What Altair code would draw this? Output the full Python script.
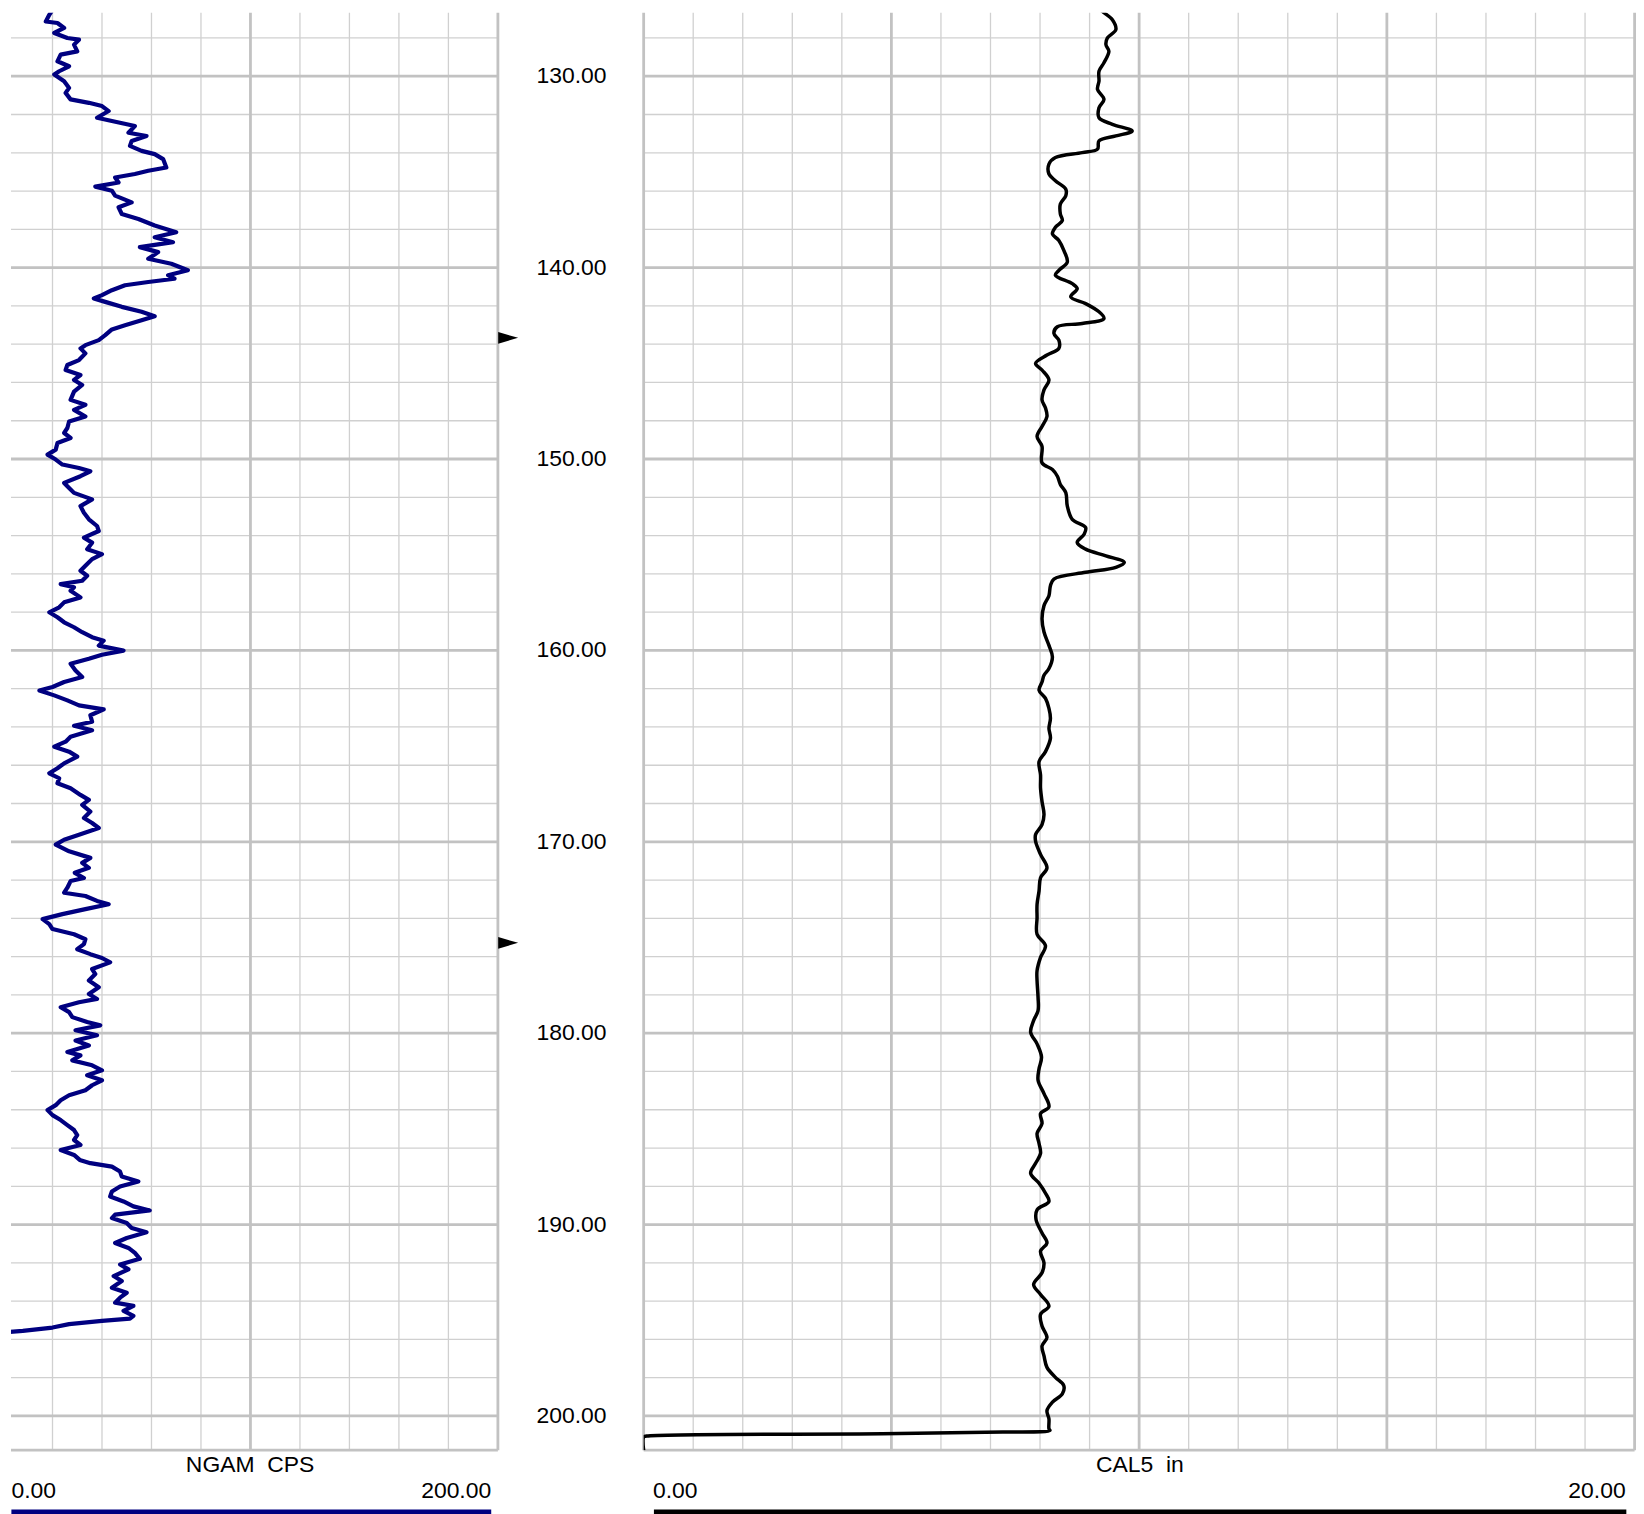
import altair as alt
import pandas as pd

# ---------------- data ----------------
ngam_depth = [126.27, 126.53, 126.79, 127.14, 127.22, 127.48, 127.74, 128.00, 128.09, 128.35,
              128.70, 128.87, 129.22, 129.48, 129.74, 129.91, 130.26, 130.61, 130.87, 131.21,
              131.39, 131.56, 131.82, 132.17, 132.34, 132.60, 132.95, 133.12, 133.38, 133.64,
              133.90, 134.07, 134.33, 134.77, 134.94, 135.11, 135.29, 135.55, 135.77, 135.98,
              136.24, 136.59, 136.85, 137.20, 137.46, 137.80, 138.15, 138.41, 138.67, 138.93,
              139.19, 139.54, 139.80, 140.14, 140.40, 140.58, 140.75, 140.92, 141.18, 141.44,
              141.61, 141.79, 142.05, 142.31, 142.54, 142.75, 143.01, 143.23, 143.53, 143.79,
              144.05, 144.22, 144.48, 144.83, 145.09, 145.35, 145.61, 145.87, 146.13, 146.48,
              146.91, 147.17, 147.43, 147.78, 148.04, 148.38, 148.64, 148.90, 149.16, 149.51,
              149.77, 150.03, 150.29, 150.47, 150.64, 150.90, 151.25, 151.51, 151.77, 152.11,
              152.46, 152.81, 153.15, 153.50, 153.76, 154.11, 154.37, 154.71, 154.97, 155.23,
              155.58, 155.84, 156.10, 156.36, 156.54, 156.70, 156.88, 157.23, 157.49, 157.75,
              158.01, 158.27, 158.53, 158.79, 159.05, 159.31, 159.49, 159.75, 160.01, 160.23,
              160.44, 160.70, 161.05, 161.39, 161.65, 161.91, 162.09, 162.35, 162.61, 162.87,
              163.08, 163.39, 163.73, 163.94, 164.17, 164.51, 164.77, 165.03, 165.29, 165.55,
              165.90, 166.16, 166.42, 166.68, 166.94, 167.20, 167.55, 167.81, 168.07, 168.42,
              168.76, 169.02, 169.28, 169.63, 169.89, 170.15, 170.50, 170.84, 171.10, 171.36,
              171.62, 171.89, 172.05, 172.40, 172.66, 172.83, 173.09, 173.26, 173.52, 173.78,
              174.04, 174.30, 174.56, 174.83, 175.09, 175.35, 175.61, 175.87, 176.07, 176.30,
              176.65, 176.91, 177.25, 177.60, 177.95, 178.21, 178.38, 178.64, 178.90, 179.16,
              179.42, 179.59, 179.85, 180.11, 180.38, 180.64, 180.98, 181.16, 181.42, 181.68,
              181.94, 182.20, 182.46, 182.72, 182.98, 183.24, 183.50, 183.76, 184.02, 184.28,
              184.54, 184.80, 185.06, 185.32, 185.58, 185.84, 186.10, 186.36, 186.62, 186.79,
              186.97, 187.23, 187.49, 187.75, 188.01, 188.27, 188.53, 188.79, 189.05, 189.26,
              189.48, 189.66, 189.92, 190.18, 190.40, 190.70, 190.96, 191.22, 191.48, 191.79,
              192.08, 192.34, 192.69, 192.95, 193.30, 193.56, 193.82, 194.08, 194.25, 194.51,
              194.77, 194.91, 195.03, 195.20, 195.38, 195.55, 195.64, 201.80]
ngam_cps = [19.3, 20.0, 18.7, 17.3, 22.0, 24.7, 20.7, 26.0, 30.7, 28.7,
            30.0, 23.3, 22.0, 26.7, 22.7, 20.7, 24.7, 26.7, 25.3, 27.3,
            34.7, 40.0, 42.7, 38.0, 44.0, 53.3, 50.7, 58.0, 52.0, 51.3,
            56.0, 61.3, 64.7, 66.0, 58.7, 53.3, 45.3, 46.7, 37.3, 44.0,
            45.3, 52.0, 46.7, 48.0, 54.7, 61.3, 70.0, 61.3, 68.7, 55.3,
            62.7, 58.7, 68.0, 74.7, 66.7, 69.3, 58.7, 49.3, 44.0, 40.0,
            36.7, 41.3, 48.0, 56.0, 61.3, 56.0, 49.3, 44.0, 41.3, 38.7,
            33.3, 31.3, 33.3, 30.7, 26.0, 25.3, 31.3, 28.7, 32.0, 28.7,
            27.3, 33.3, 28.7, 33.3, 26.7, 26.0, 24.7, 27.3, 22.0, 21.3,
            18.0, 21.3, 24.0, 30.7, 35.3, 31.3, 24.7, 26.7, 28.7, 36.0,
            31.3, 32.7, 34.7, 38.0, 38.7, 32.7, 36.0, 34.0, 40.0, 36.0,
            33.3, 31.3, 34.0, 32.0, 23.3, 28.7, 27.3, 31.3, 24.7, 22.7,
            18.7, 22.0, 24.7, 28.7, 32.0, 36.0, 40.7, 38.7, 48.7, 40.0,
            34.7, 27.3, 29.3, 32.0, 24.7, 20.0, 14.7, 20.7, 26.0, 30.7,
            40.7, 35.3, 36.0, 28.7, 36.0, 27.3, 25.3, 20.7, 26.7, 30.0,
            24.7, 22.0, 18.7, 22.7, 22.0, 27.3, 31.3, 34.7, 32.0, 35.3,
            32.7, 36.0, 38.7, 30.7, 24.7, 21.3, 26.7, 35.3, 32.0, 34.7,
            29.0, 32.7, 27.3, 26.0, 24.7, 33.3, 38.0, 42.7, 33.3, 24.0,
            16.0, 18.7, 20.0, 28.7, 33.3, 32.7, 30.0, 35.3, 40.0, 43.3,
            36.0, 37.3, 34.7, 38.7, 34.7, 38.0, 30.7, 23.3, 26.7, 28.0,
            34.0, 39.3, 29.3, 38.0, 29.3, 34.7, 26.0, 31.3, 28.0, 36.0,
            40.0, 34.0, 40.0, 36.0, 33.3, 26.7, 23.3, 21.3, 18.0, 20.0,
            23.3, 26.0, 28.7, 30.0, 28.7, 31.3, 23.3, 28.7, 31.0, 35.3,
            44.0, 47.3, 48.0, 54.7, 47.3, 44.0, 43.3, 48.7, 52.7, 59.3,
            45.3, 44.0, 50.0, 52.0, 58.0, 50.0, 45.3, 50.7, 53.3, 55.3,
            47.3, 50.7, 44.7, 48.0, 44.0, 50.0, 47.3, 45.3, 52.7, 48.7,
            52.7, 51.3, 40.0, 26.7, 20.0, 8.0, 0.0, 0.0]

cal_depth = [126.27, 126.62, 127.05, 127.57, 128.00, 128.35, 128.70, 129.30, 129.74, 130.26,
             130.69, 131.21, 131.65, 132.17, 132.51, 132.86, 133.12, 133.38, 133.81, 133.99,
             134.25, 134.59, 135.11, 135.46, 135.90, 136.24, 136.68, 137.20, 137.54, 137.89,
             138.24, 138.58, 139.10, 139.71, 140.14, 140.40, 140.84, 141.10, 141.53, 141.88,
             142.31, 142.66, 142.92, 143.09, 143.44, 143.79, 144.22, 144.57, 145.00, 145.35,
             145.87, 146.39, 146.91, 147.34, 147.78, 148.30, 148.82, 149.34, 150.20, 150.55,
             150.90, 151.33, 151.76, 152.45, 153.15, 153.58, 153.93, 154.36, 154.71, 155.06,
             155.40, 155.66, 155.92, 156.27, 156.62, 157.14, 157.66, 158.35, 159.04, 159.74,
             160.34, 160.95, 161.30, 161.65, 162.08, 162.51, 163.03, 163.55, 164.07, 164.59,
             165.29, 165.81, 166.50, 167.20, 167.89, 168.58, 169.10, 169.62, 169.97, 170.66,
             171.36, 171.88, 172.57, 173.27, 173.96, 174.83, 175.43, 176.04, 176.73, 177.26,
             178.13, 178.82, 179.34, 179.95, 180.56, 181.25, 181.86, 182.46, 183.16, 183.85,
             184.20, 184.72, 185.24, 185.76, 186.28, 186.80, 187.32, 187.84, 188.36, 188.79,
             189.23, 189.75, 190.44, 190.96, 191.39, 192.00, 192.52, 193.13, 193.65, 194.26,
             194.69, 195.30, 195.90, 196.34, 196.86, 197.46, 197.98, 198.42, 198.85, 199.28,
             199.72, 200.15, 200.67, 200.75, 200.84, 200.93, 201.05, 201.10, 201.80]
cal_in = [9.12, 9.26, 9.46, 9.53, 9.36, 9.33, 9.39, 9.29, 9.19, 9.19,
          9.16, 9.29, 9.19, 9.19, 9.46, 9.86, 9.53, 9.19, 9.16, 8.85,
          8.31, 8.18, 8.18, 8.31, 8.52, 8.52, 8.41, 8.41, 8.45, 8.31,
          8.25, 8.38, 8.48, 8.55, 8.38, 8.31, 8.65, 8.75, 8.62, 8.92,
          9.19, 9.29, 8.85, 8.35, 8.28, 8.38, 8.38, 8.14, 7.91, 8.04,
          8.18, 8.08, 8.04, 8.11, 8.14, 8.04, 7.94, 8.04, 8.04, 8.25,
          8.35, 8.41, 8.52, 8.55, 8.65, 8.92, 8.89, 8.75, 8.92, 9.33,
          9.70, 9.53, 8.92, 8.28, 8.21, 8.18, 8.08, 8.04, 8.08, 8.18,
          8.25, 8.18, 8.08, 8.04, 7.98, 8.11, 8.18, 8.21, 8.18, 8.21,
          8.11, 7.98, 8.01, 8.01, 8.04, 8.08, 8.04, 7.91, 7.91, 8.01,
          8.14, 8.01, 7.98, 7.94, 7.94, 7.94, 8.11, 8.01, 7.94, 7.94,
          7.96, 7.96, 7.87, 7.81, 7.94, 8.03, 7.98, 7.96, 8.08, 8.18,
          8.01, 8.04, 7.94, 7.98, 8.01, 7.91, 7.81, 7.98, 8.11, 8.18,
          7.94, 7.92, 8.04, 8.14, 8.01, 8.08, 8.04, 7.87, 8.01, 8.18,
          8.01, 8.04, 8.14, 8.04, 8.08, 8.14, 8.31, 8.48, 8.45, 8.25,
          8.14, 8.18, 8.18, 8.20, 7.25, 4.81, 0.06, 0.00, 0.00]

depth_labels = [130, 140, 150, 160, 170, 180, 190, 200]
marker_depths = [143.67, 175.28]

# ---------------- layout / style ----------------
TOP, BOT = 126.684, 201.786
H = 1442.7
W_L, W_M, W_R = 488.7, 146, 994.6
FONT = "Liberation Sans"
FS = 23
MINOR_C, MAJOR_C = "#d0d0d0", "#c2c2c2"
MINOR_W, MAJOR_W = 1.3, 2.8

yscale = alt.Scale(domain=[TOP, BOT], reverse=True, nice=False, zero=False)
minor_depth = [d for d in range(128, 202, 2) if d % 10]
major_depth = list(range(130, 201, 10))


def track(depth, vals, dom, minor_x, major_x, border_x, color, lw, interp, width,
          title, lo, hi, title_x, lo_x, hi_x, bar0, bar1):
    xs = alt.Scale(domain=dom, nice=False, zero=False)
    X = lambda f: alt.X(f, scale=xs, axis=None)
    Y = lambda f: alt.Y(f, scale=yscale, axis=None)
    layers = [
        alt.Chart(pd.DataFrame({"x": minor_x})).mark_rule(color=MINOR_C, strokeWidth=MINOR_W).encode(x=X("x:Q")),
        alt.Chart(pd.DataFrame({"y": minor_depth})).mark_rule(color=MINOR_C, strokeWidth=MINOR_W).encode(y=Y("y:Q")),
        alt.Chart(pd.DataFrame({"x": major_x + border_x})).mark_rule(color=MAJOR_C, strokeWidth=MAJOR_W).encode(x=X("x:Q")),
        alt.Chart(pd.DataFrame({"y": major_depth})).mark_rule(color=MAJOR_C, strokeWidth=MAJOR_W).encode(y=Y("y:Q")),
        alt.Chart(pd.DataFrame({"a": [0]})).mark_rule(color=MAJOR_C, strokeWidth=MAJOR_W).encode(
            x=alt.value(0), x2=alt.value(width), y=alt.value(H)),
        alt.Chart(pd.DataFrame({"depth": depth, "v": vals})).mark_line(
            color=color, strokeWidth=lw, clip=True, strokeJoin="round", interpolate=interp).encode(
            x=X("v:Q"), y=Y("depth:Q"), order="depth:Q"),
        alt.Chart(pd.DataFrame({"t": [title]})).mark_text(
            font=FONT, fontSize=FS, color="black", align="center", baseline="middle").encode(
            text="t:N", x=alt.value(title_x), y=alt.value(H + 15)),
        alt.Chart(pd.DataFrame({"t": [lo]})).mark_text(
            font=FONT, fontSize=FS, color="black", align="left", baseline="middle").encode(
            text="t:N", x=alt.value(lo_x), y=alt.value(H + 41)),
        alt.Chart(pd.DataFrame({"t": [hi]})).mark_text(
            font=FONT, fontSize=FS, color="black", align="right", baseline="middle").encode(
            text="t:N", x=alt.value(hi_x), y=alt.value(H + 41)),
        alt.Chart(pd.DataFrame({"a": [0]})).mark_rule(color=color, strokeWidth=5).encode(
            x=alt.value(bar0), x2=alt.value(bar1), y=alt.value(H + 62)),
    ]
    return alt.layer(*layers).properties(width=width, height=H)


left = track(ngam_depth, ngam_cps, [3.221, 200],
             [20, 40, 60, 80, 120, 140, 160, 180], [100], [200],
             "#000080", 4.2, "linear", W_L, "NGAM\u00a0\u00a0CPS", "0.00", "200.00",
             240, 0.4, 482, 0.4, 482)

right = track(cal_depth, cal_in, [0, 20],
              [1, 2, 3, 4, 6, 7, 8, 9, 11, 12, 13, 14, 16, 17, 18, 19], [5, 10, 15], [0, 20],
              "black", 3.5, "catmull-rom", W_R, "CAL5\u00a0\u00a0in", "0.00", "20.00",
              498, 9.3, 985.6, 10.3, 986.3)

mid_labels = alt.Chart(pd.DataFrame({"depth": depth_labels})).mark_text(
    font=FONT, fontSize=FS, color="black", align="center", baseline="middle").encode(
    y=alt.Y("depth:Q", scale=yscale, axis=None),
    x=alt.value(73.6),
    text=alt.Text("depth:Q", format=".2f"))

markers = alt.Chart(pd.DataFrame({"depth": marker_depths})).mark_point(
    shape="M0,-0.58L2,0L0,0.58Z", filled=True, color="black", size=400, opacity=1,
    strokeWidth=0).encode(
    y=alt.Y("depth:Q", scale=yscale, axis=None),
    x=alt.value(0))

mid = alt.layer(mid_labels, markers).properties(width=W_M, height=H)

chart = alt.hconcat(left, mid, right, spacing=0, bounds="flush").resolve_scale(
    x="independent", y="independent").properties(padding=0).configure_view(stroke=None)

chart.save("out.html", embed_options={"renderer": "svg", "actions": False})
